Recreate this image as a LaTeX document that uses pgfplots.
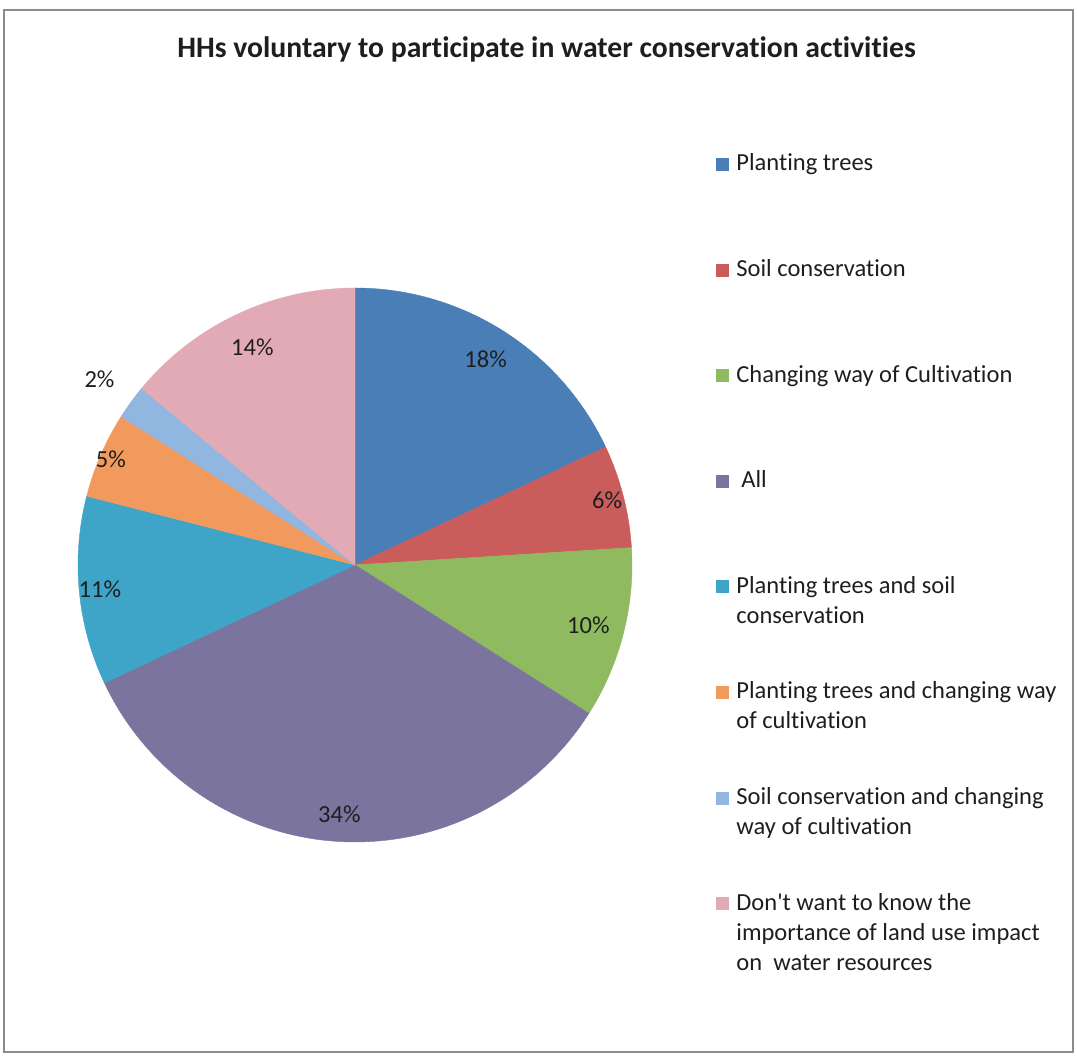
\documentclass[border=0pt]{standalone}
\usepackage{fontspec}
\setmainfont[Ligatures={TeX,NoCommon}]{Carlito}
\usepackage{pgfplots}
\usepackage{pgfplotstable}
\pgfplotsset{compat=1.18}

\definecolor{cA}{RGB}{74,126,182}
\definecolor{cB}{RGB}{202,92,92}
\definecolor{cC}{RGB}{143,186,95}
\definecolor{cD}{RGB}{122,116,158}
\definecolor{cE}{RGB}{62,164,200}
\definecolor{cF}{RGB}{242,154,94}
\definecolor{cG}{RGB}{145,182,224}
\definecolor{cH}{RGB}{226,170,180}
\definecolor{txt}{RGB}{30,30,30}

% value, label radius factor, colour
\pgfplotstableread{
value r color
18 0.88 cA
6 0.94 cB
10 0.87 cC
34 0.90 cD
11 0.925 cE
5 0.96 cF
2 1.14 cG
14 0.87 cH
}\piedata

\begin{document}
\begin{tikzpicture}
\begin{axis}[
  x=0.5bp, y=0.5bp,
  xmin=0, xmax=1077, ymin=0, ymax=1056,
  hide axis, clip=false, scale only axis,
]
\path (axis cs:0,0) rectangle (axis cs:1077,1056);
\draw[black!45, line width=1bp] (axis cs:4,4) rectangle (axis cs:1073,1046);

\def\cum{90}
\pgfplotsforeachungrouped \i in {0,...,7}{%
  \pgfplotstablegetelem{\i}{value}\of\piedata \let\v\pgfplotsretval
  \pgfplotstablegetelem{\i}{r}\of\piedata \let\lr\pgfplotsretval
  \pgfplotstablegetelem{\i}{color}\of\piedata \let\col\pgfplotsretval
  \pgfmathsetmacro\a{\cum}%
  \pgfmathsetmacro\b{\cum-3.6*\v}%
  \pgfmathsetmacro\m{(\a+\b)/2}%
  \pgfmathsetmacro\lx{355+277*\lr*cos(\m)}%
  \pgfmathsetmacro\ly{491+277*\lr*sin(\m)}%
  \edef\doplot{%
    \noexpand\addplot[fill=\col, draw=\col, line width=0.2pt, domain=\b:\a, samples=90, variable=\noexpand\t]
      ({355+277*cos(\noexpand\t)},{491+277*sin(\noexpand\t)}) -- (axis cs:355,491) -- cycle;
    \noexpand\node[font=\noexpand\fontsize{12.3}{14}\noexpand\selectfont, text=txt, inner sep=0pt] at (axis cs:\lx,\ly) {\v\noexpand\%};
  }%
  \doplot
  \let\cum\b
}

% title
\node[anchor=base, font=\bfseries\fontsize{14.9}{17}\selectfont, text=txt, inner sep=0pt] at (axis cs:546.5,998.5)
  {HHs voluntary to participate in water conservation activities};

% legend
\fill[cA] (axis cs:716,885) rectangle (axis cs:729,898);
\fill[cB] (axis cs:716,779.4) rectangle (axis cs:729,792.4);
\fill[cC] (axis cs:716,673.8) rectangle (axis cs:729,686.8);
\fill[cD] (axis cs:716,568.2) rectangle (axis cs:729,581.2);
\fill[cE] (axis cs:716,462.6) rectangle (axis cs:729,475.6);
\fill[cF] (axis cs:716,357) rectangle (axis cs:729,370);
\fill[cG] (axis cs:716,251.4) rectangle (axis cs:729,264.4);
\fill[cH] (axis cs:716,145.8) rectangle (axis cs:729,158.8);
\begin{scope}[every node/.style={anchor=base west, inner sep=0pt, text=txt, font=\fontsize{12.3}{14}\selectfont}]
\node at (axis cs:736,885) {Planting trees};
\node at (axis cs:736,779.4) {Soil conservation};
\node at (axis cs:736,673.8) {Changing way of Cultivation};
\node at (axis cs:741,568.2) {All};
\node at (axis cs:736,462.6) {Planting trees and soil};
\node at (axis cs:736,432.6) {conservation};
\node at (axis cs:736,357) {Planting trees and changing way};
\node at (axis cs:736,327) {of cultivation};
\node at (axis cs:736,251.4) {Soil conservation and changing};
\node at (axis cs:736,221.4) {way of cultivation};
\node at (axis cs:736,145.8) {Don\textquotesingle t want to know the};
\node at (axis cs:736,115.8) {importance of land use impact};
\node at (axis cs:736,85.8) {on\ \ water resources};
\end{scope}
\end{axis}
\end{tikzpicture}
\end{document}
